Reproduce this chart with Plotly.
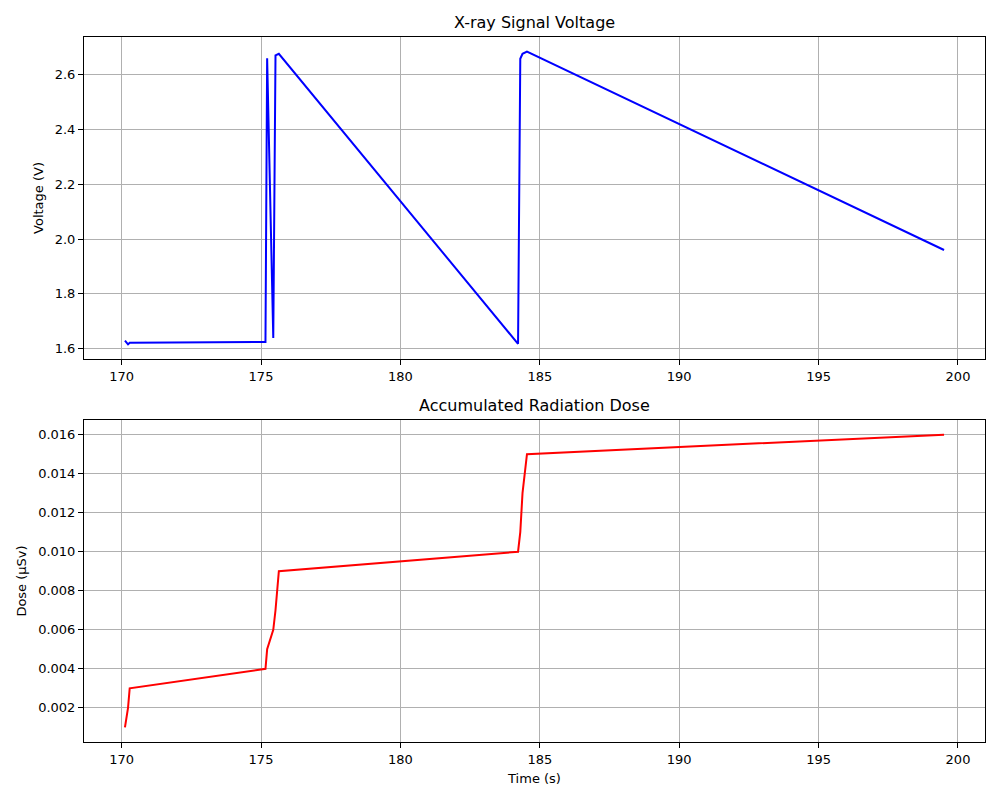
import plotly.graph_objects as go

time_s = [170.12, 170.23, 170.29, 175.16, 175.22, 175.44, 175.52, 175.64,
          184.22, 184.30, 184.38, 184.54, 199.5]
voltage_v = [1.629, 1.615, 1.621, 1.624, 2.661, 1.638, 2.671, 2.677,
             1.617, 2.659, 2.677, 2.685, 1.960]
dose_usv = [0.001, 0.002, 0.003, 0.004, 0.005, 0.006, 0.007, 0.009,
            0.010, 0.011, 0.013, 0.015, 0.016]

x_ticks = [170, 175, 180, 185, 190, 195, 200]
v_ticks = [1.6, 1.8, 2.0, 2.2, 2.4, 2.6]
d_ticks = [0.002, 0.004, 0.006, 0.008, 0.010, 0.012, 0.014, 0.016]

font = dict(family="DejaVu Sans", size=13, color="black")

def pad(vals):
    lo, hi = min(vals), max(vals)
    m = (hi - lo) * 0.05
    return [lo - m, hi + m]

fig = go.Figure()
fig.add_trace(go.Scatter(x=time_s, y=voltage_v, mode="lines",
                         line=dict(color="#0000ff", width=2),
                         xaxis="x", yaxis="y", showlegend=False))
fig.add_trace(go.Scatter(x=time_s, y=dose_usv, mode="lines",
                         line=dict(color="#ff0000", width=2),
                         xaxis="x2", yaxis="y2", showlegend=False))

axis_common = dict(showline=True, linecolor="black", linewidth=1, mirror=True,
                   ticks="outside", ticklen=5, tickcolor="black",
                   showgrid=True, gridcolor="#b0b0b0", gridwidth=1,
                   zeroline=False, tickfont=font)

top_dom = [1 - 322 / 705, 1]
bot_dom = [0, 322 / 705]

fig.update_layout(
    width=992, height=792,
    margin=dict(l=76, r=15, t=29, b=58),
    paper_bgcolor="white", plot_bgcolor="white",
    font=font,
    xaxis=dict(axis_common, domain=[0, 1], anchor="y", range=pad(time_s),
               tickvals=x_ticks, ticktext=[str(t) for t in x_ticks]),
    yaxis=dict(axis_common, domain=top_dom, anchor="x", range=pad(voltage_v),
               tickvals=v_ticks, ticktext=[f"{t:.1f}" for t in v_ticks],
               title=dict(text="Voltage (V)", font=font, standoff=8)),
    xaxis2=dict(axis_common, domain=[0, 1], anchor="y2", range=pad(time_s),
                tickvals=x_ticks, ticktext=[str(t) for t in x_ticks],
                title=dict(text="Time (s)", font=font, standoff=8)),
    yaxis2=dict(axis_common, domain=bot_dom, anchor="x2", range=pad(dose_usv),
                tickvals=d_ticks, ticktext=[f"{t:.3f}" for t in d_ticks],
                title=dict(text="Dose (µSv)", font=font, standoff=8)),
    annotations=[
        dict(text="X-ray Signal Voltage", x=0.5, y=top_dom[1], xref="paper",
             yref="paper", xanchor="center", yanchor="bottom", yshift=3,
             showarrow=False, font=dict(family="DejaVu Sans", size=16, color="black")),
        dict(text="Accumulated Radiation Dose", x=0.5, y=bot_dom[1], xref="paper",
             yref="paper", xanchor="center", yanchor="bottom", yshift=3,
             showarrow=False, font=dict(family="DejaVu Sans", size=16, color="black")),
    ],
)

fig.write_html("out.html")
